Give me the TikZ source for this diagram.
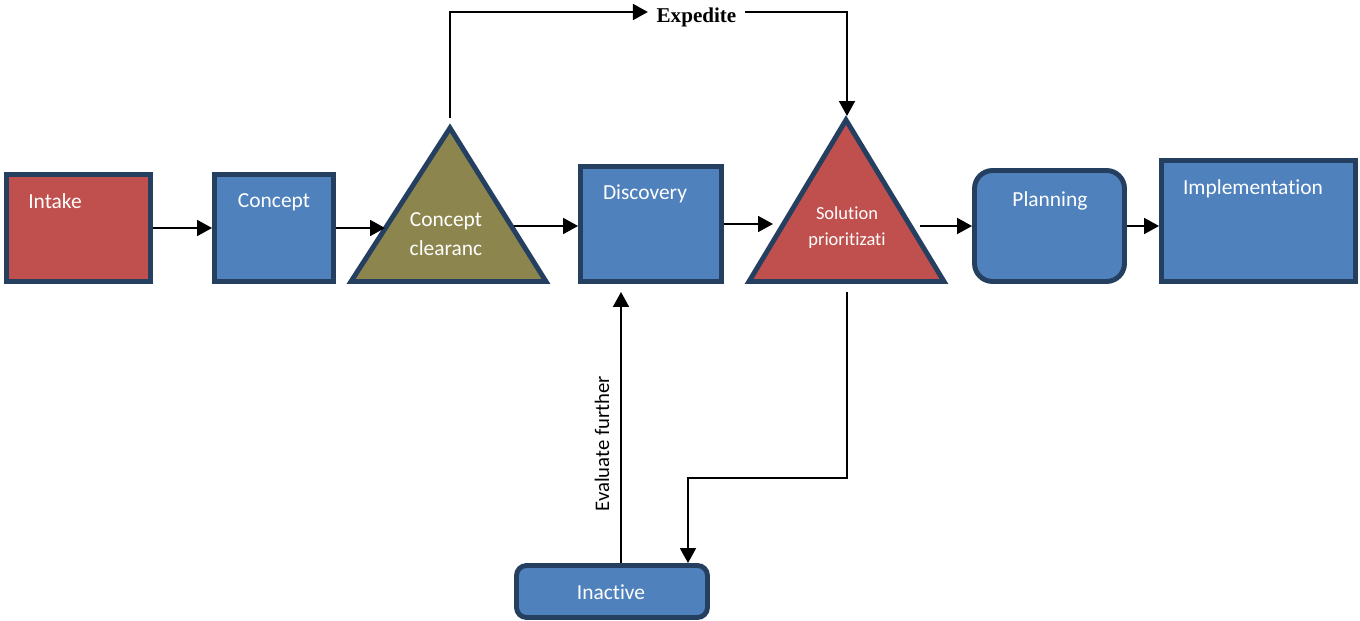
\documentclass[tikz,border=0pt]{standalone}
\usepackage{fontspec}
\setmainfont{Carlito}[Ligatures={NoCommon, NoContextual}]
\newfontfamily\expfont{Liberation Serif}
\usetikzlibrary{arrows.meta, calc, positioning}
\definecolor{boxred}{HTML}{C0504D}
\definecolor{boxblue}{HTML}{4F81BD}
\definecolor{boxolive}{HTML}{8C864E}
\definecolor{boxline}{HTML}{243F60}

\begin{document}
\begin{tikzpicture}[x=0.02cm, y=-0.02cm,
    box/.style={draw=boxline, line width=2.8pt, fill=boxblue, inner sep=0pt},
    redbox/.style={box, fill=boxred},
    tri/.style={draw=boxline, line width=2.8pt},
    lbl/.style={text=white, anchor=base, inner sep=0pt, font=\fontsize{12.2}{17}\selectfont},
    small/.style={lbl, font=\fontsize{10.5}{15.2}\selectfont},
    flow/.style={line width=1.3pt, -{Triangle[length=8.5pt, width=9pt]}}]
    \useasboundingbox (0,0) rectangle (1360,621);

    % boxes
    \node[redbox, minimum width=2.88cm, minimum height=2.14cm] (intake) at (78.5,228) {};
    \node[box, minimum width=2.38cm, minimum height=2.14cm] (concept) at (274,228) {};
    \node[box, minimum width=2.82cm, minimum height=2.3cm] (disc) at (651,224) {};
    \node[box, rounded corners=0.36cm, minimum width=3cm, minimum height=2.22cm] (plan) at (1049.5,226) {};
    \node[box, minimum width=3.88cm, minimum height=2.42cm] (impl) at (1258.5,221) {};
    \node[box, rounded corners=0.2cm, minimum width=3.82cm, minimum height=1.04cm] (inact) at (612,591.5) {};

    % the two gates
    \draw[tri, fill=boxolive] (351,281.5) -- (450,128) -- (546,281.5) -- cycle;
    \draw[tri, fill=boxred] (749,281.5) -- (846,120) -- (944,281.5) -- cycle;
    \coordinate (cl) at (385,226);
    \coordinate (cr) at (514,226);
    \coordinate (ctop) at (450,118);
    \coordinate (pl) at (773,226);
    \coordinate (pr) at (920,226);
    \coordinate (ptop) at (847,116);
    \coordinate (pbot) at (847,292);
    \coordinate (bend) at (688,478);
    \coordinate (dbot) at (621,292);

    % texts (base of a two-line node is its last line)
    \node[lbl] at ($(intake.north)+(-23.5,36)$) {Intake};
    \node[lbl] at ($(concept.north)+(0,35)$) {Concept};
    \node[lbl, align=center] (cctext) at (446,256) {Concept\\clearanc};
    \node[lbl] at ($(disc.north)+(-6,35)$) {Discovery};
    \node[small, align=center] (ptext) at (847,246) {Solution\\prioritizati};
    \node[lbl] at ($(plan.north)+(0.5,38)$) {Planning};
    \node[lbl] at ($(impl.north)+(-5.5,36)$) {Implementation};
    \node[lbl] at ($(inact.north)+(-1,36)$) {Inactive};
    \node[font=\expfont\bfseries\fontsize{12}{14}\selectfont, text height=11.4pt, text depth=0pt,
        inner xsep=4.8pt, inner ysep=0pt] (exp) at (696.5,12) {Expedite};

    % connectors
    \draw[flow] (intake.east) -- (concept.west);
    \draw[flow] (concept.east) -- (concept.east -| cl);
    \draw[flow] (cr) -- (cr -| disc.west);
    \draw[flow] (disc.east) -- (disc.east -| pl);
    \draw[flow] (pr) -- (pr -| plan.west);
    \draw[flow] (plan.east) -- (plan.east -| impl.west);
    \draw[flow] (ctop) |- (exp.west);
    \draw[flow] (exp.east) -| (ptop);
    \draw[flow] (pbot) |- (bend) -- (inact.north -| bend);
    \draw[flow] (inact.north -| dbot) -- (dbot)
        node[pos=0.44, sloped, above=6pt, inner sep=0pt, font=\fontsize{11.8}{14}\selectfont] {Evaluate further};
\end{tikzpicture}
\end{document}
